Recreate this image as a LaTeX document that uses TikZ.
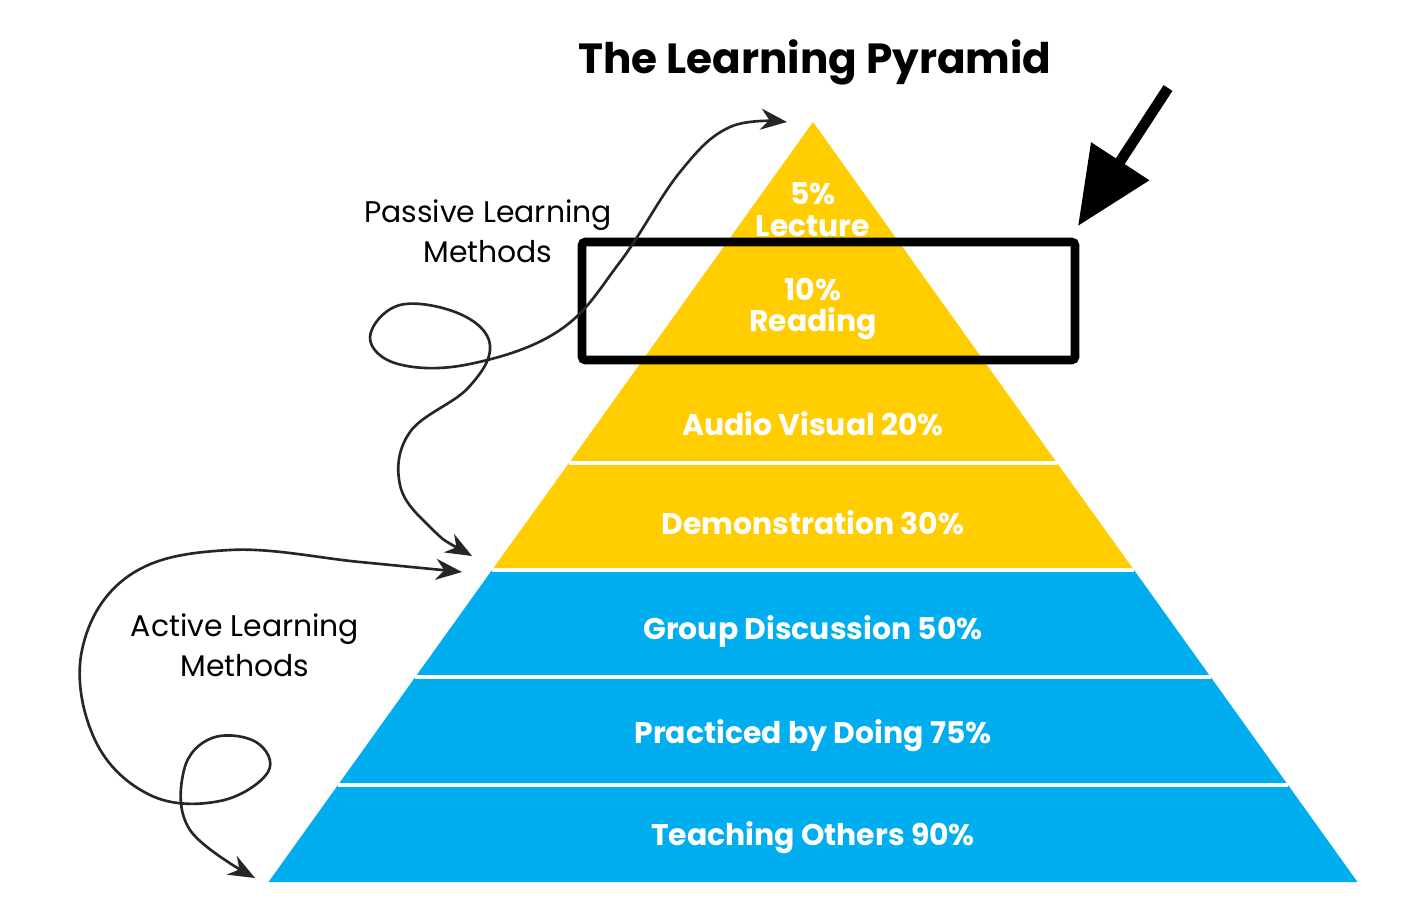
\documentclass[tikz,border=0pt]{standalone}
\usepackage{fontspec}
\setmainfont{Poppins}
\usetikzlibrary{arrows.meta}
\definecolor{pyy}{HTML}{FFCD00}
\definecolor{pyb}{HTML}{00AEEF}
\begin{document}
\begin{tikzpicture}[x=0.02cm,y=-0.02cm,
  band/.style={white,font=\fontsize{17}{19}\selectfont\bfseries},
  side/.style={black,font=\fontsize{17}{23}\selectfont,align=center},
  sep/.style={white,line width=2pt},
  curve/.style={line width=1.5pt,draw=black!85,{Stealth[length=15pt,width=12pt]}-{Stealth[length=15pt,width=12pt]}}]
\useasboundingbox[fill=white] (0,0) rectangle (1402,918);
% bands
\fill[pyy] (813,122) -- (1057,463) -- (569,463) -- cycle;
\fill[pyy] (569,463) -- (1057,463) -- (1134,570) -- (492,570) -- cycle;
\fill[pyb] (492,570) -- (1134,570) -- (1357.5,882) -- (268.5,882) -- cycle;
\draw[sep] (644,358) -- (982,358);
\draw[sep] (569,463) -- (1057,463);
\draw[sep] (492,570) -- (1134,570);
\draw[sep] (415,677) -- (1211,677);
\draw[sep] (338,785) -- (1288,785);
% labels
\node[band,align=center] (lec) at (813,210) {5\%\\[-1pt]Lecture};
\node[band,align=center] (rea) at (813,309) {10\%\\[-1pt]Reading};
\node[band] (aud) at (813,424) {Audio Visual 20\%};
\node[band] (dem) at (813,523) {Demonstration 30\%};
\node[band] (grp) at (813,632) {Group Discussion 50\%};
\node[band] (pra) at (813,736) {Practiced by Doing 75\%};
\node[band] (tea) at (813,838) {Teaching Others 90\%};
\node[font=\fontsize{24}{26}\selectfont\bfseries] (title) at (815,62) {The Learning Pyramid};
\node[side] (pas) at (488,231) {Passive Learning\\Methods};
\node[side] (act) at (245,645) {Active Learning\\Methods};
% box
\node[draw=black,line width=5pt,rounded corners=2pt,minimum width=9.86cm,minimum height=2.36cm,inner sep=0pt] (box) at (828.5,301) {};
% big arrow
\coordinate (a1) at (1168,88);
\coordinate (a2) at (1078,226);
\draw[line width=6pt,-{Triangle[length=44pt,width=38pt]}] (a1) -- (a2);
% curves
\coordinate (p1) at (472,556);
\coordinate (p2) at (787,122);
\draw[curve] plot[smooth,tension=0.65] coordinates {(p1) (430,527) (400,485) (410,432) (468,388) (490,345) (460,314) (400,305) (370,337) (398,364) (470,364) (560,330) (620,262) (680,172) (730,127) (p2)};
\coordinate (q1) at (462,572);
\coordinate (q2) at (255,878);
\draw[curve] plot[smooth,tension=0.65] coordinates {(q1) (360,562) (230,550) (130,575) (82,650) (95,740) (150,795) (220,801) (268,772) (256,742) (212,738) (184,770) (190,830) (q2)};
\end{tikzpicture}
\end{document}
